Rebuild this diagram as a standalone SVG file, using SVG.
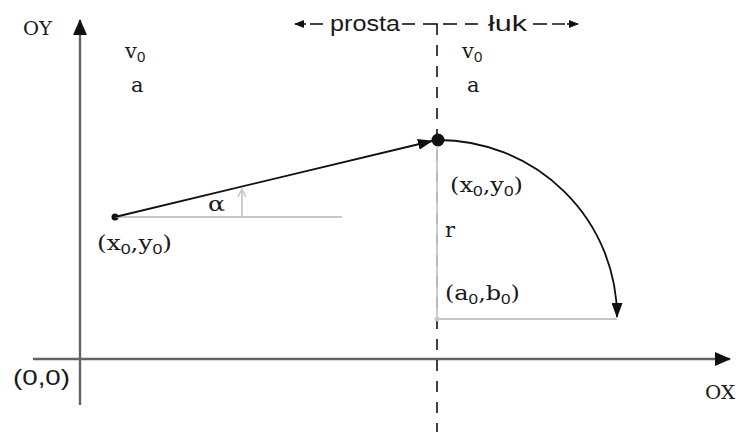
<svg xmlns="http://www.w3.org/2000/svg" width="739" height="432" viewBox="0 0 739 432">
<defs>
<style>
.t{font-family:"DejaVu Serif","Liberation Serif",serif;font-size:21px;fill:#1a1a1a}
.ax{font-family:"DejaVu Serif","Liberation Serif",serif;font-size:18px;fill:#1a1a1a}
.s{font-family:"Liberation Sans","DejaVu Sans",sans-serif;font-size:15px}
.ts{font-family:"Liberation Sans","Open Sans",sans-serif;font-size:22px;fill:#1a1a1a}
.axis{stroke:#626262;stroke-width:2.4;fill:none}
.gray{stroke:#c8c8c8;stroke-width:1.8;fill:none}
.dash{stroke:#111;stroke-width:1.6;stroke-dasharray:11 10;fill:none}
.hd{stroke:#111;stroke-width:1.6;fill:none}
.blk{stroke:#111;stroke-width:1.8;fill:none}
</style>
<marker id="ah" viewBox="0 0 15 11" refX="14" refY="5.5" markerWidth="15" markerHeight="11" orient="auto" markerUnits="userSpaceOnUse"><path d="M0,0 L15,5.5 L0,11 z" fill="#111"/></marker>
<marker id="ahax" viewBox="0 0 16 14" refX="15" refY="7" markerWidth="16" markerHeight="14" orient="auto" markerUnits="userSpaceOnUse"><path d="M0,0 L16,7 L0,14 z" fill="#111"/></marker>
<marker id="ahs" viewBox="0 0 10 8" refX="9" refY="4" markerWidth="10" markerHeight="8" orient="auto" markerUnits="userSpaceOnUse"><path d="M0,0 L10,4 L0,8 z" fill="#111"/></marker>
<marker id="ahg" viewBox="0 0 10 10" refX="9" refY="5" markerWidth="10" markerHeight="10" orient="auto" markerUnits="userSpaceOnUse"><path d="M1,1 L9,5 L1,9" fill="none" stroke="#c8c8c8" stroke-width="1.6"/></marker>
</defs>
<rect width="739" height="432" fill="#fff"/>
<g id="axes">
<line class="axis" x1="80" y1="405" x2="80" y2="20" marker-end="url(#ahax)"/>
<line class="axis" x1="33" y1="359" x2="730" y2="359" marker-end="url(#ahax)"/>
<text class="ax" x="23" y="35" textLength="29" lengthAdjust="spacingAndGlyphs">OY</text>
<text class="ax" x="705" y="399" textLength="30" lengthAdjust="spacingAndGlyphs">OX</text>
<text class="ts" x="13" y="385" textLength="57" lengthAdjust="spacingAndGlyphs">(0,0)</text>
</g>
<g id="divider">
<line class="dash" x1="437" y1="24" x2="437" y2="432"/>
<line class="hd" x1="423" y1="24" x2="437.8" y2="24"/>
<line class="hd" x1="310" y1="24" x2="323" y2="24"/>
<line class="hd" x1="402" y1="24" x2="415" y2="24"/>
<line class="hd" x1="443" y1="24" x2="457" y2="24"/>
<line class="hd" x1="465" y1="24" x2="478" y2="24"/>
<line class="hd" x1="533" y1="24" x2="547" y2="24"/>
<line class="hd" x1="552" y1="24" x2="578" y2="24" stroke-dasharray="13 2 20" marker-end="url(#ahs)"/>
<line class="hd" x1="306" y1="24" x2="295" y2="24" marker-end="url(#ahs)"/>
<text class="ts" x="330" y="31" textLength="70" lengthAdjust="spacingAndGlyphs">prosta</text>
<text class="ts" x="488" y="31" textLength="39" lengthAdjust="spacingAndGlyphs">łuk</text>
</g>
<g id="left-params">
<text class="t" x="125" y="58">v<tspan class="s" dy="4">0</tspan></text>
<text class="t" x="131" y="92">a</text>
</g>
<g id="right-params">
<text class="t" x="462" y="58">v<tspan class="s" dy="4">0</tspan></text>
<text class="t" x="467" y="92">a</text>
</g>
<g id="start-point">
<circle cx="115" cy="217" r="3.5" fill="#111"/>
<text class="t" x="97" y="250" textLength="75" lengthAdjust="spacingAndGlyphs">(x<tspan class="s" dy="4">0</tspan><tspan dy="-4">,y</tspan><tspan class="s" dy="4">0</tspan><tspan dy="-4">)</tspan></text>
</g>
<g id="angle">
<line class="gray" x1="115" y1="217" x2="342" y2="217"/>
<line class="gray" x1="242" y1="217" x2="242" y2="189" marker-end="url(#ahg)"/>
<text class="t" x="208" y="211" textLength="17" lengthAdjust="spacingAndGlyphs">α</text>
</g>
<g id="connectors">
<line class="blk" x1="115" y1="217" x2="432" y2="141" marker-end="url(#ah)"/>
<path class="blk" d="M438,140 A179,177 0 0 1 617,317" marker-end="url(#ah)"/>
</g>
<g id="turn-point">
<circle cx="438" cy="140" r="6.5" fill="#111"/>
<text class="t" x="450" y="192" textLength="73" lengthAdjust="spacingAndGlyphs">(x<tspan class="s" dy="4">0</tspan><tspan dy="-4">,y</tspan><tspan class="s" dy="4">0</tspan><tspan dy="-4">)</tspan></text>
</g>
<g id="radius">
<line class="gray" x1="437" y1="146" x2="437" y2="319"/>
<line class="gray" x1="437" y1="319" x2="617" y2="319"/>
<circle cx="437" cy="319" r="2.5" fill="#c8c8c8"/>
<text class="t" x="445" y="237">r</text>
<text class="t" x="445" y="300" textLength="75" lengthAdjust="spacingAndGlyphs">(a<tspan class="s" dy="4">0</tspan><tspan dy="-4">,b</tspan><tspan class="s" dy="4">0</tspan><tspan dy="-4">)</tspan></text>
</g>
</svg>
